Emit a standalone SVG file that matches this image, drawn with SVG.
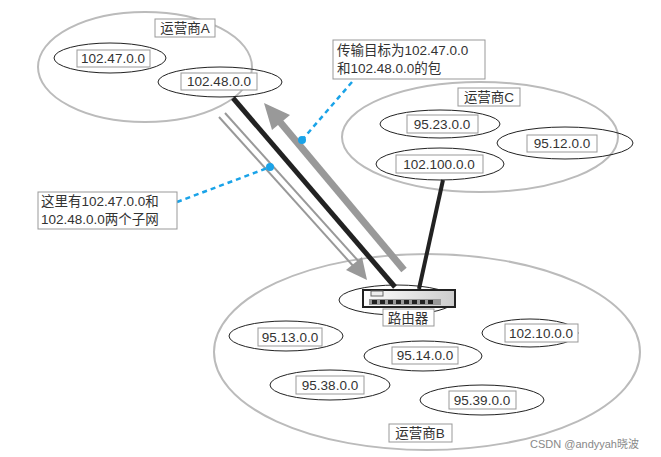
<svg xmlns="http://www.w3.org/2000/svg" width="661" height="457" viewBox="0 0 661 457">
<style>
.big{fill:none;stroke:#bbb;stroke-width:2}
.sub{fill:none;stroke:#222;stroke-width:1}
.lb{fill:#fff;stroke:#999;stroke-width:1}
text{font-family:"Liberation Sans","Noto Sans CJK SC",sans-serif;font-size:13.5px;fill:#333}
.t{text-anchor:middle}
.dot{stroke:#1aa3e8;stroke-width:2.5;stroke-dasharray:5,4;fill:none}
</style>
<rect width="661" height="457" fill="#fff"/>
<g id="A"><ellipse class="big" cx="145" cy="67" rx="107" ry="55"/><rect class="lb" x="155" y="19" width="60" height="18"/><text class="t" x="185" y="33">运营商A</text></g>
<g id="C"><ellipse class="big" cx="480" cy="137" rx="138" ry="55"/><rect class="lb" x="458" y="88" width="62" height="18"/><text class="t" x="489" y="102">运营商C</text></g>
<g id="B"><ellipse class="big" cx="427" cy="352" rx="213" ry="98"/><rect class="lb" x="389" y="424" width="63" height="18"/><text class="t" x="420" y="438">运营商B</text></g>
<g id="connectors">
<line x1="233" y1="98" x2="395" y2="287" stroke="#222" stroke-width="5"/>
<line x1="443" y1="180" x2="419" y2="289" stroke="#222" stroke-width="4"/>
<line x1="404" y1="270" x2="275" y2="116" stroke="#999" stroke-width="7"/>
<path d="M264,103L290,115L272,130z" fill="#999"/>
<line x1="219" y1="117" x2="355" y2="268" stroke="#999" stroke-width="2"/>
<line x1="225" y1="113" x2="361" y2="264" stroke="#999" stroke-width="2"/>
<path d="M367,280L346,270L362,257z" fill="#999"/>
<path class="dot" d="M352,82L302,140"/><circle cx="302" cy="140" r="4" fill="#1aa3e8"/>
<path class="dot" d="M177,202L270,167"/><circle cx="270" cy="167" r="4" fill="#1aa3e8"/>
</g>
<g id="n1"><ellipse class="sub" cx="110" cy="58" rx="56" ry="15"/><rect class="lb" x="77" y="50" width="73" height="17"/><text class="t" x="113" y="63">102.47.0.0</text></g>
<g id="n2"><ellipse class="sub" cx="220" cy="82" rx="62" ry="15"/><rect class="lb" x="181" y="73" width="76" height="17"/><text class="t" x="219" y="86">102.48.0.0</text></g>
<g id="n3"><ellipse class="sub" cx="440" cy="124" rx="60" ry="14"/><rect class="lb" x="407" y="115" width="71" height="18"/><text class="t" x="442" y="129">95.23.0.0</text></g>
<g id="n4"><ellipse class="sub" cx="565" cy="143" rx="68" ry="16"/><rect class="lb" x="527" y="135" width="70" height="17"/><text class="t" x="562" y="148">95.12.0.0</text></g>
<g id="n5"><ellipse class="sub" cx="440" cy="164" rx="64" ry="16"/><rect class="lb" x="396" y="155" width="87" height="18"/><text class="t" x="439" y="169">102.100.0.0</text></g>
<g id="router"><ellipse class="sub" cx="397" cy="300" rx="58" ry="15"/>
<defs><linearGradient id="g" x1="0" x2="1"><stop offset="0" stop-color="#fff"/><stop offset="1" stop-color="#ccc"/></linearGradient></defs>
<rect x="363" y="290" width="92" height="17" fill="url(#g)" stroke="#222" stroke-width="2"/>
<rect x="371" y="291" width="12" height="5" fill="#eee" stroke="#666"/>
<rect x="369" y="299" width="72" height="6" fill="#999"/>
<g fill="#222"><rect x="372" y="300" width="5" height="4"/><rect x="380" y="300" width="5" height="4"/><rect x="388" y="300" width="5" height="4"/><rect x="396" y="300" width="5" height="4"/><rect x="404" y="300" width="5" height="4"/><rect x="412" y="300" width="5" height="4"/><rect x="420" y="300" width="5" height="4"/><rect x="428" y="300" width="5" height="4"/></g>
<rect class="lb" x="383" y="309" width="51" height="17"/><text class="t" x="408" y="323">路由器</text></g>
<g id="n6"><ellipse class="sub" cx="286" cy="336" rx="57" ry="15"/><rect class="lb" x="258" y="328" width="64" height="18"/><text class="t" x="290" y="342">95.13.0.0</text></g>
<g id="n7"><ellipse class="sub" cx="423" cy="356" rx="59" ry="15"/><rect class="lb" x="392" y="347" width="66" height="17"/><text class="t" x="425" y="360">95.14.0.0</text></g>
<g id="n8"><ellipse class="sub" cx="530" cy="333" rx="48" ry="14"/><rect class="lb" x="505" y="324" width="73" height="18"/><text class="t" x="541" y="338">102.10.0.0</text></g>
<g id="n9"><ellipse class="sub" cx="330" cy="385" rx="60" ry="15"/><rect class="lb" x="296" y="376" width="68" height="18"/><text class="t" x="330" y="390">95.38.0.0</text></g>
<g id="n10"><ellipse class="sub" cx="482" cy="400" rx="62" ry="15"/><rect class="lb" x="449" y="391" width="67" height="18"/><text class="t" x="482" y="405">95.39.0.0</text></g>
<g id="c1"><rect class="lb" x="333" y="40" width="152" height="39"/><text x="337" y="55">传输目标为102.47.0.0</text><text x="337" y="73">和102.48.0.0的包</text></g>
<g id="c2"><rect class="lb" x="38" y="192" width="139" height="37"/><text x="41" y="206">这里有102.47.0.0和</text><text x="41" y="224">102.48.0.0两个子网</text></g>
<text x="530" y="448" style="font-size:11px;fill:#888">CSDN @andyyah晓波</text>
</svg>
